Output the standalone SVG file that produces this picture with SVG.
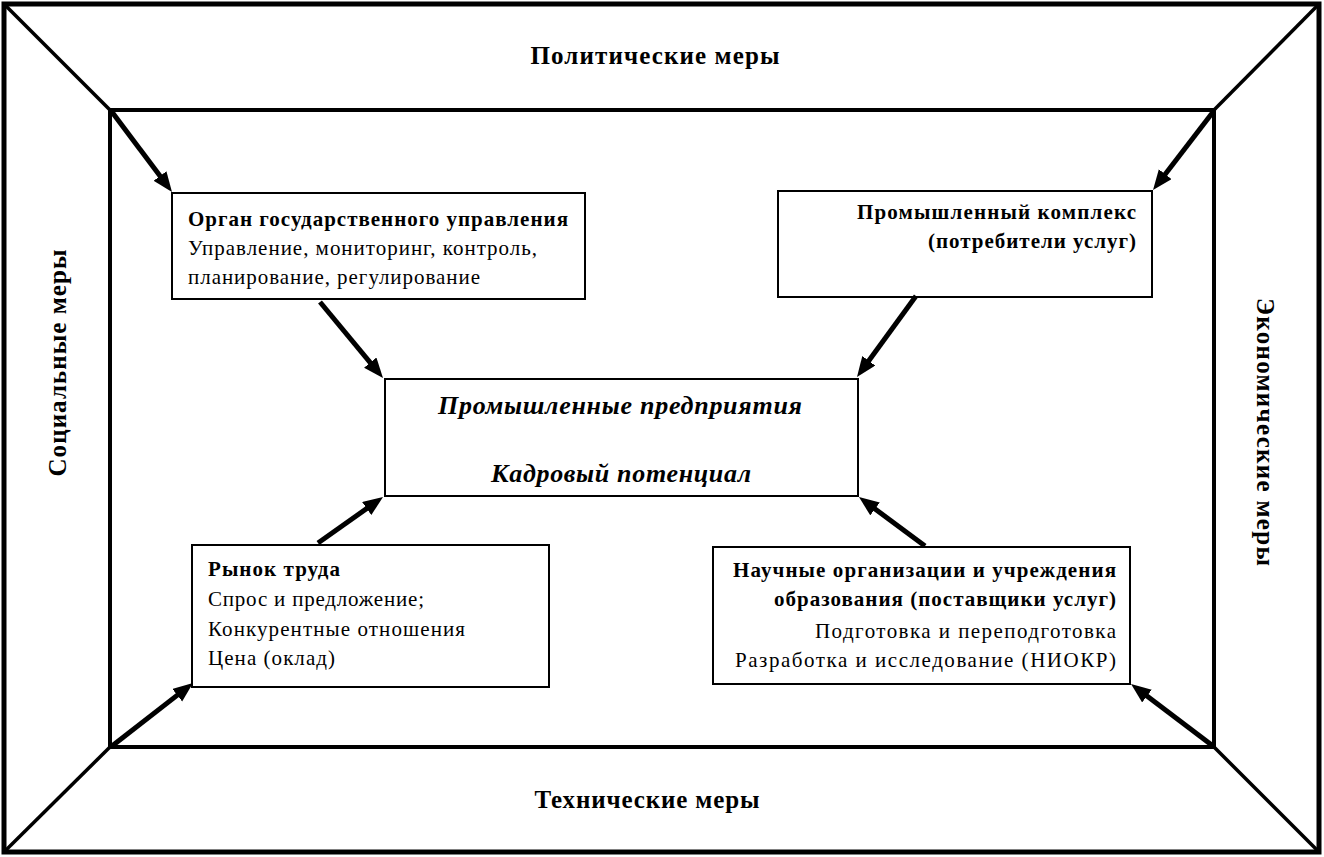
<svg xmlns="http://www.w3.org/2000/svg" width="1324" height="857" viewBox="0 0 1324 857">
<style>
.frame{fill:none;stroke:#000}
.box{fill:#fff;stroke:#000;stroke-width:2}
.t{font-family:"Liberation Serif","Times New Roman",serif;fill:#000}
.side{font-size:25px;font-weight:bold}
.bt{font-size:21px}
.b{font-weight:bold}
.ctr{font-size:26px;font-weight:bold;font-style:italic}
.arr{stroke:#000;stroke-width:5;fill:none;marker-end:url(#ah)}
</style>
<defs>
<marker id="ah" markerUnits="userSpaceOnUse" markerWidth="22" markerHeight="18" refX="12" refY="8" orient="auto">
<path d="M0,0 L20,8 L0,16 z" fill="#000"/>
</marker>
</defs>
<rect width="1324" height="857" fill="#fff"/>
<g id="frame">
<rect class="frame" x="4" y="4" width="1315" height="848" stroke-width="5"/>
<rect class="frame" x="110" y="110" width="1104" height="637" stroke-width="4"/>
<line x1="4" y1="4" x2="110" y2="110" stroke="#000" stroke-width="3.5"/>
<line x1="1319" y1="4" x2="1214" y2="110" stroke="#000" stroke-width="3.5"/>
<line x1="4" y1="852" x2="110" y2="747" stroke="#000" stroke-width="3.5"/>
<line x1="1319" y1="852" x2="1214" y2="747" stroke="#000" stroke-width="3.5"/>
</g>
<g id="sides">
<text class="t side" x="655" y="64" text-anchor="middle" textLength="249">Политические меры</text>
<text class="t side" x="647" y="808" text-anchor="middle" textLength="225">Технические меры</text>
<text class="t side" transform="translate(66,363) rotate(-90)" text-anchor="middle" textLength="227">Социальные меры</text>
<text class="t side" transform="translate(1257,432) rotate(90)" text-anchor="middle" textLength="268">Экономические меры</text>
</g>
<g id="node-organ">
<rect class="box" x="172" y="193" width="413" height="106"/>
<text class="t bt b" x="188" y="226" textLength="380">Орган государственного управления</text>
<text class="t bt" x="188" y="255" textLength="349">Управление, мониторинг, контроль,</text>
<text class="t bt" x="188" y="284" textLength="292">планирование, регулирование</text>
</g>
<g id="node-complex">
<rect class="box" x="778" y="191" width="374" height="106"/>
<text class="t bt b" x="1136" y="219" text-anchor="end" textLength="279">Промышленный комплекс</text>
<text class="t bt b" x="1136" y="248" text-anchor="end" textLength="208">(потребители услуг)</text>
</g>
<g id="node-center">
<rect class="box" x="385" y="379" width="473" height="117"/>
<text class="t ctr" x="620" y="414" text-anchor="middle" textLength="364">Промышленные предприятия</text>
<text class="t ctr" x="621" y="482" text-anchor="middle" textLength="260">Кадровый потенциал</text>
</g>
<g id="node-market">
<rect class="box" x="192" y="545" width="357" height="142"/>
<text class="t bt b" x="208" y="576" textLength="132">Рынок труда</text>
<text class="t bt" x="208" y="606" textLength="216">Спрос и предложение;</text>
<text class="t bt" x="208" y="636" textLength="257">Конкурентные отношения</text>
<text class="t bt" x="208" y="665" textLength="127">Цена (оклад)</text>
</g>
<g id="node-science">
<rect class="box" x="713" y="547" width="417" height="137"/>
<text class="t bt b" x="1116" y="577" text-anchor="end" textLength="383">Научные организации и учреждения</text>
<text class="t bt b" x="1116" y="606" text-anchor="end" textLength="342">образования (поставщики услуг)</text>
<text class="t bt" x="1116" y="638" text-anchor="end" textLength="301">Подготовка и  переподготовка</text>
<text class="t bt" x="1116" y="667" text-anchor="end" textLength="381">Разработка и  исследование (НИОКР)</text>
</g>
<g id="connectors">
<line class="arr" x1="112" y1="112" x2="167.2" y2="185.6"/>
<line class="arr" x1="1213" y1="112" x2="1157.9" y2="183.7"/>
<line class="arr" x1="320" y1="302" x2="377.9" y2="371.8"/>
<line class="arr" x1="916" y1="296" x2="861.7" y2="370.5"/>
<line class="arr" x1="318" y1="543" x2="376.5" y2="501.6"/>
<line class="arr" x1="925" y1="546" x2="865.4" y2="501.8"/>
<line class="arr" x1="112" y1="746" x2="186.7" y2="687.9"/>
<line class="arr" x1="1213" y1="746" x2="1137.4" y2="688.8"/>
</g>
</svg>
